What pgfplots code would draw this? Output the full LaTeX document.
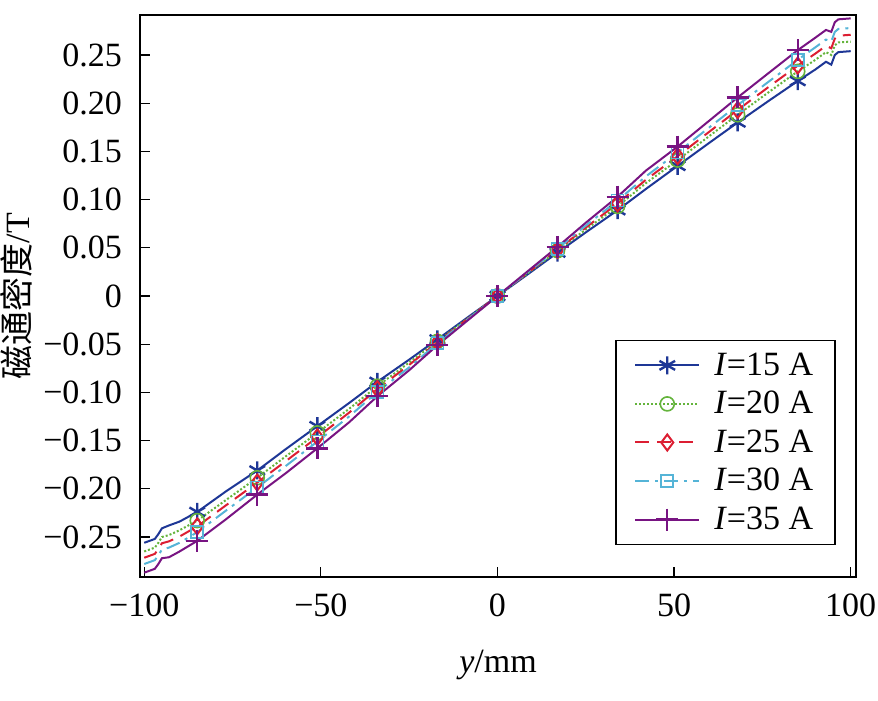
\documentclass[border=0pt]{standalone}
\usepackage{fontspec}
\setmainfont{Liberation Serif}
\newfontfamily\cjk{Noto Sans CJK SC}
\usepackage{pgfplots}
\usepackage{pgfplotstable}
\pgfplotsset{compat=1.18}

\definecolor{c15}{RGB}{30,55,150}
\definecolor{c20}{RGB}{100,180,60}
\definecolor{c25}{RGB}{220,30,50}
\definecolor{c30}{RGB}{85,180,215}
\definecolor{c35}{RGB}{120,20,130}

% B (T) vs y (mm), one column per current
\pgfplotstableread{
x     I15     I20     I25     I30     I35
-100  -0.256  -0.265  -0.2715 -0.278  -0.287
-98.5 -0.254  -0.263  -0.2695 -0.276  -0.285
-97   -0.252  -0.261  -0.2675 -0.274  -0.283
-96   -0.247  -0.256  -0.2625 -0.269  -0.278
-95   -0.241  -0.250  -0.2565 -0.263  -0.272
-93   -0.238  -0.248  -0.2545 -0.261  -0.271
-90   -0.234  -0.243  -0.2495 -0.256  -0.265
-85   -0.224  -0.233  -0.239  -0.245  -0.254
-77   -0.203  -0.212  -0.2175 -0.223  -0.232
-68   -0.181  -0.1885 -0.1935 -0.1985 -0.206
-60   -0.159  -0.1665 -0.1715 -0.1765 -0.184
-51   -0.135  -0.142  -0.1465 -0.151  -0.158
-42   -0.111  -0.117  -0.121  -0.125  -0.131
-34   -0.089  -0.0935 -0.0965 -0.0995 -0.104
-25   -0.066  -0.069  -0.0715 -0.074  -0.077
-17   -0.045  -0.047  -0.048  -0.049  -0.051
-8    -0.021  -0.022  -0.0225 -0.023  -0.024
0      0       0       0       0       0
8      0.021   0.022   0.0225  0.023   0.024
17     0.045   0.047   0.048   0.049   0.051
25     0.066   0.069   0.071   0.073   0.076
34     0.089   0.093   0.096   0.099   0.103
42     0.111   0.117   0.1205  0.124   0.130
51     0.135   0.141   0.145   0.149   0.155
60     0.159   0.166   0.1705  0.175   0.182
68     0.180   0.188   0.193   0.198   0.206
77     0.203   0.212   0.2175  0.223   0.232
85     0.223   0.233   0.239   0.245   0.255
90     0.235   0.245   0.2515  0.258   0.268
93     0.243   0.253   0.2595  0.266   0.276
94.5   0.240   0.250   0.257   0.264   0.274
95.5   0.250   0.260   0.267   0.274   0.284
96.5   0.253   0.263   0.270   0.277   0.287
100    0.254   0.264   0.271   0.278   0.288
}\datatab

\begin{document}
\begin{tikzpicture}
\begin{axis}[
  scale only axis,
  width=358pt, height=281pt,
  xmin=-101.2, xmax=101.5,
  ymin=-0.2915, ymax=0.2915,
  xtick={-100,-50,0,50,100},
  xticklabels={−100,−50,0,50,100},
  ytick={-0.25,-0.2,-0.15,-0.1,-0.05,0,0.05,0.1,0.15,0.2,0.25},
  yticklabels={−0.25,−0.20,−0.15,−0.10,−0.05,0,0.05,0.10,0.15,0.20,0.25},
  tick pos=left,
  tick align=inside,
  major tick length=5pt,
  tick style={black, line width=0.6pt},
  axis line style={line width=0.8pt},
  ticklabel style={font=\fontsize{17}{19}\selectfont},
  xticklabel style={yshift=-5pt},
  yticklabel style={xshift=-5.5pt},
  label style={font=\fontsize{17}{19}\selectfont},
  xlabel={\textit{y}/mm},
  ylabel={{\cjk 磁通密度}/T},
  xlabel style={at={(axis description cs:0.5,-0.157)}, anchor=center},
  ylabel style={at={(axis description cs:-0.172,0.5)}, anchor=center},
  legend style={at={(0.972,0.422)}, anchor=north east, draw=black,
    line width=0.8pt, font=\fontsize{17}{19}\selectfont,
    row sep=2.5pt, inner xsep=9pt, inner ysep=4pt},
  legend cell align=left,
  legend image code/.code={
    \draw[mark indices={2}] plot coordinates {(0pt,0pt) (16pt,0pt) (32pt,0pt)};
    \path (37pt,0pt);},
  every axis plot/.append style={line width=1pt,
    mark indices={8,10,12,14,16,18,20,22,24,26,28}},
]
\addplot[c15, mark=asterisk, mark options={solid, line width=1.2pt, mark size=4.5pt}] table[x=x, y=I15] {\datatab};
\addlegendentry{\textit{I}=15 A}
\addplot[c20, densely dotted, mark=o, mark options={solid, line width=0.8pt, mark size=3.5pt}] table[x=x, y=I20] {\datatab};
\addlegendentry{\textit{I}=20 A}
\addplot[c25, dash pattern=on 7pt off 4pt, mark=diamond, mark options={solid, line width=1pt, mark size=4pt}] table[x=x, y=I25] {\datatab};
\addlegendentry{\textit{I}=25 A}
\addplot[c30, dash pattern=on 7pt off 3pt on 1.5pt off 3pt, mark=square, mark options={solid, line width=0.8pt, mark size=3pt}] table[x=x, y=I30] {\datatab};
\addlegendentry{\textit{I}=30 A}
\addplot[c35, mark=+, mark options={solid, line width=1.2pt, mark size=5.5pt}] table[x=x, y=I35] {\datatab};
\addlegendentry{\textit{I}=35 A}
\coordinate (sw) at (rel axis cs:0,0);
\coordinate (ne) at (rel axis cs:1,1);
\end{axis}
\pgfresetboundingbox
\path[use as bounding box] ([xshift=-70pt,yshift=-61.5pt]sw) rectangle ([xshift=11pt,yshift=7.5pt]ne);
\end{tikzpicture}
\end{document}
